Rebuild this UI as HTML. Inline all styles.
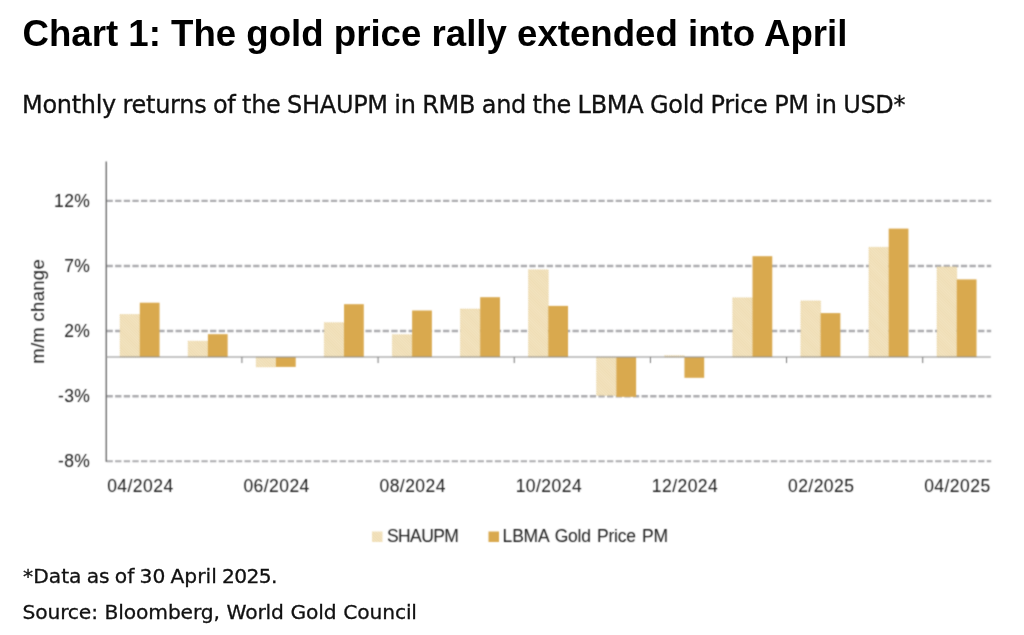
<!DOCTYPE html>
<html lang="en"><head><meta charset="utf-8"><title>Chart 1: The gold price rally extended into April</title>
<style>
html,body{margin:0;padding:0;background:#fff;}
body{width:1024px;height:635px;position:relative;overflow:hidden;font-family:"Liberation Sans",sans-serif;color:#000;}
h1{position:absolute;left:22.5px;top:13px;margin:0;font:bold 36.63px/1.15 "Liberation Sans",sans-serif;white-space:nowrap;color:#000;}
p{position:absolute;margin:0;white-space:nowrap;font-family:"DejaVu Sans","Liberation Sans",sans-serif;color:#111;-webkit-text-stroke:.3px #111;}
.sub{left:22px;top:91.5px;font-size:24px;line-height:1.15;letter-spacing:-.3px;word-spacing:-.75px;}
.n1{left:23px;top:564.5px;font-size:20.25px;line-height:1.15;word-spacing:-1.25px;}
.n2{left:22.5px;top:600.5px;font-size:20.25px;line-height:1.15;letter-spacing:-.15px;word-spacing:.5px;}
svg{position:absolute;left:0;top:0;}
.g{stroke:#acacaf;stroke-width:2.35;stroke-dasharray:6.3 2.33;}
.t{font-family:"Liberation Sans",sans-serif;font-size:17px;fill:#1c1c1c;letter-spacing:.3px;}
.lb{stroke:#e6cd92;stroke-width:.7;stroke-dasharray:1.1 1.1;}
.y{font-size:17.5px;letter-spacing:.4px;}
.x{font-size:17.5px;letter-spacing:.45px;}
.yt{font-size:18.5px;letter-spacing:.3px;}
.l{font-size:17.5px;}
.l1{letter-spacing:-.6px;}
.l2{letter-spacing:-.2px;word-spacing:1.5px;}
</style></head><body>
<h1>Chart 1: The gold price rally extended into April</h1>
<p class="sub">Monthly returns of the SHAUPM in RMB and the LBMA Gold Price PM in USD*</p>
<svg width="1024" height="635" viewBox="0 0 1024 635">
<defs><pattern id="h" width="2" height="2" patternUnits="userSpaceOnUse" patternTransform="rotate(45)"><rect width="2" height="2" fill="#F5E8C9"/><rect width="2" height="0.7" fill="#E9D29E"/></pattern><filter id="b" x="0" y="0" width="1024" height="635" filterUnits="userSpaceOnUse" color-interpolation-filters="sRGB"><feConvolveMatrix order="3" kernelMatrix="1 2 1 2 8 2 1 2 1" divisor="20" edgeMode="none"/></filter></defs>
<g filter="url(#b)">
<line x1="106.5" x2="991.2" y1="200.9" y2="200.9" class="g"/>
<line x1="106.5" x2="991.2" y1="266.0" y2="266.0" class="g"/>
<line x1="106.5" x2="991.2" y1="331.0" y2="331.0" class="g"/>
<line x1="106.5" x2="991.2" y1="396.2" y2="396.2" class="g"/>
<line x1="106.5" x2="991.2" y1="461.2" y2="461.2" class="g" style="stroke-width:1.9"/>
<rect x="120.05" y="314.50" width="19.75" height="42.55" fill="url(#h)" class="lb"/>
<rect x="139.80" y="302.70" width="19.75" height="54.35" fill="#D9A94E"/>
<rect x="188.13" y="341.20" width="19.75" height="15.85" fill="url(#h)" class="lb"/>
<rect x="207.88" y="334.20" width="19.75" height="22.85" fill="#D9A94E"/>
<rect x="256.21" y="357.05" width="19.75" height="9.85" fill="url(#h)" class="lb"/>
<rect x="275.96" y="357.05" width="19.75" height="9.85" fill="#D9A94E"/>
<rect x="324.29" y="322.70" width="19.75" height="34.35" fill="url(#h)" class="lb"/>
<rect x="344.04" y="304.20" width="19.75" height="52.85" fill="#D9A94E"/>
<rect x="392.37" y="334.70" width="19.75" height="22.35" fill="url(#h)" class="lb"/>
<rect x="412.12" y="310.50" width="19.75" height="46.55" fill="#D9A94E"/>
<rect x="460.45" y="309.00" width="19.75" height="48.05" fill="url(#h)" class="lb"/>
<rect x="480.20" y="297.20" width="19.75" height="59.85" fill="#D9A94E"/>
<rect x="528.53" y="269.80" width="19.75" height="87.25" fill="url(#h)" class="lb"/>
<rect x="548.28" y="305.90" width="19.75" height="51.15" fill="#D9A94E"/>
<rect x="596.61" y="357.05" width="19.75" height="38.35" fill="url(#h)" class="lb"/>
<rect x="616.36" y="357.05" width="19.75" height="39.75" fill="#D9A94E"/>
<rect x="664.69" y="355.70" width="19.75" height="1.35" fill="url(#h)" class="lb"/>
<rect x="684.44" y="357.05" width="19.75" height="20.75" fill="#D9A94E"/>
<rect x="732.77" y="297.80" width="19.75" height="59.25" fill="url(#h)" class="lb"/>
<rect x="752.52" y="256.20" width="19.75" height="100.85" fill="#D9A94E"/>
<rect x="800.85" y="300.90" width="19.75" height="56.15" fill="url(#h)" class="lb"/>
<rect x="820.60" y="313.10" width="19.75" height="43.95" fill="#D9A94E"/>
<rect x="868.93" y="247.30" width="19.75" height="109.75" fill="url(#h)" class="lb"/>
<rect x="888.68" y="228.60" width="19.75" height="128.45" fill="#D9A94E"/>
<rect x="937.01" y="266.90" width="19.75" height="90.15" fill="url(#h)" class="lb"/>
<rect x="956.76" y="279.40" width="19.75" height="77.65" fill="#D9A94E"/>
<line x1="106.2" x2="106.2" y1="161.6" y2="461.8" stroke="#444" stroke-width="1.1"/>
<line x1="106" x2="990.8" y1="357.05" y2="357.05" stroke="#8c8c8c" stroke-width="1.1"/>
<line x1="241.92" x2="241.92" y1="357.05" y2="363.05" stroke="#777" stroke-width="1"/>
<line x1="378.08" x2="378.08" y1="357.05" y2="363.05" stroke="#777" stroke-width="1"/>
<line x1="514.24" x2="514.24" y1="357.05" y2="363.05" stroke="#777" stroke-width="1"/>
<line x1="650.40" x2="650.40" y1="357.05" y2="363.05" stroke="#777" stroke-width="1"/>
<line x1="786.56" x2="786.56" y1="357.05" y2="363.05" stroke="#777" stroke-width="1"/>
<line x1="922.72" x2="922.72" y1="357.05" y2="363.05" stroke="#777" stroke-width="1"/>
<text x="90.3" y="206.5" text-anchor="end" class="t y">12%</text>
<text x="90.3" y="271.6" text-anchor="end" class="t y">7%</text>
<text x="90.3" y="336.6" text-anchor="end" class="t y">2%</text>
<text x="90.3" y="401.8" text-anchor="end" class="t y">-3%</text>
<text x="90.3" y="466.8" text-anchor="end" class="t y">-8%</text>
<text x="140.4" y="492.4" text-anchor="middle" class="t x">04/2024</text>
<text x="276.6" y="492.4" text-anchor="middle" class="t x">06/2024</text>
<text x="412.7" y="492.4" text-anchor="middle" class="t x">08/2024</text>
<text x="548.9" y="492.4" text-anchor="middle" class="t x">10/2024</text>
<text x="685.0" y="492.4" text-anchor="middle" class="t x">12/2024</text>
<text x="821.2" y="492.4" text-anchor="middle" class="t x">02/2025</text>
<text x="957.4" y="492.4" text-anchor="middle" class="t x">04/2025</text>
<text transform="translate(44.1,311.4) rotate(-90)" text-anchor="middle" class="t yt">m/m change</text>
<rect x="372" y="531.5" width="10.5" height="10.5" fill="url(#h)"/>
<text x="387" y="542" class="t l l1">SHAUPM</text>
<rect x="488.5" y="531.5" width="10.5" height="10.5" fill="#D9A94E"/>
<text x="502.6" y="542" class="t l l2">LBMA Gold Price PM</text>
</g>
</svg>
<p class="n1">*Data as of 30 April <span style="letter-spacing:-.6px">2025.</span></p>
<p class="n2">Source: Bloomberg, World Gold Council</p>
</body></html>
